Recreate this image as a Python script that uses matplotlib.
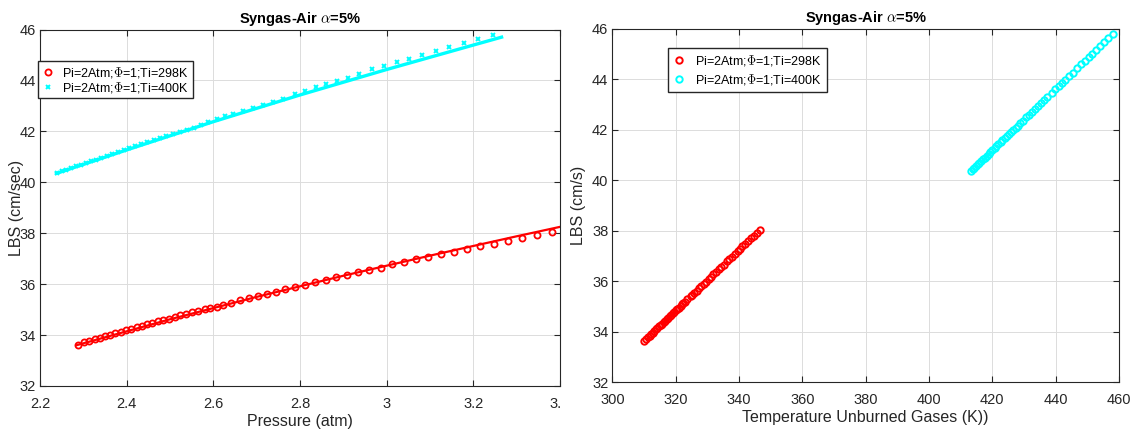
import matplotlib.pyplot as plt
from matplotlib.transforms import Bbox, TransformedBbox

plt.rcParams['font.family'] = ['Liberation Sans', 'DejaVu Sans']
plt.rcParams['mathtext.fontset'] = 'cm'

# Pi=2Atm; Phi=1; Ti=298K
p_298 = [2.2884, 2.3015, 2.3138, 2.3262, 2.3378, 2.3493, 2.3616, 2.3738, 2.3862, 2.3985,
         2.4107, 2.4232, 2.4347, 2.4469, 2.4592, 2.4716, 2.4846, 2.4984, 2.5116, 2.5238,
         2.5376, 2.5515, 2.5653, 2.5801, 2.5930, 2.6078, 2.6217, 2.6408, 2.6604, 2.6812,
         2.7020, 2.7232, 2.7447, 2.7661, 2.7892, 2.8123, 2.8354, 2.8594, 2.8831, 2.9078,
         2.9332, 2.9593, 2.9858, 3.0131, 3.0401, 3.0678, 3.0961, 3.1255, 3.1548, 3.1855,
         3.2155, 3.2478, 3.2801, 3.3131, 3.3463, 3.3816]
lbs_298 = [33.62, 33.71, 33.78, 33.84, 33.90, 33.96, 34.01, 34.08, 34.13, 34.20,
           34.25, 34.31, 34.37, 34.43, 34.48, 34.54, 34.60, 34.65, 34.72, 34.77,
           34.84, 34.89, 34.95, 35.02, 35.07, 35.12, 35.18, 35.27, 35.39, 35.45,
           35.54, 35.62, 35.71, 35.80, 35.89, 35.97, 36.08, 36.17, 36.27, 36.36,
           36.46, 36.55, 36.65, 36.78, 36.87, 36.97, 37.07, 37.18, 37.28, 37.37,
           37.48, 37.58, 37.70, 37.80, 37.92, 38.03]
tu_298 = [310.0, 310.7, 311.3, 311.8, 312.3, 312.8, 313.2, 313.8, 314.2, 314.8,
          315.2, 315.7, 316.2, 316.7, 317.1, 317.6, 318.1, 318.5, 319.1, 319.5,
          320.1, 320.5, 321.0, 321.6, 322.0, 322.4, 322.9, 323.7, 324.7, 325.1,
          325.9, 326.6, 327.3, 328.0, 328.8, 329.5, 330.4, 331.1, 331.9, 332.7,
          333.5, 334.3, 335.1, 336.2, 336.9, 337.7, 338.6, 339.5, 340.3, 341.0,
          341.9, 342.8, 343.8, 344.6, 345.6, 346.5]

# Pi=2Atm; Phi=1; Ti=400K
p_400 = [2.2399, 2.2503, 2.2609, 2.2718, 2.2829, 2.2942, 2.3057, 2.3175, 2.3295, 2.3417,
         2.3542, 2.3669, 2.3798, 2.3929, 2.4063, 2.4199, 2.4338, 2.4479, 2.4622, 2.4767,
         2.4917, 2.5069, 2.5226, 2.5388, 2.5552, 2.5720, 2.5884, 2.6078, 2.6270, 2.6461,
         2.6692, 2.6923, 2.7154, 2.7384, 2.7615, 2.7885, 2.8116, 2.8370, 2.8601, 2.8854,
         2.9115, 2.9369, 2.9655, 2.9939, 3.0232, 3.0523, 3.0816, 3.1139, 3.1446, 3.1785,
         3.2115, 3.2462]
lbs_400 = [40.37, 40.43, 40.49, 40.56, 40.62, 40.69, 40.76, 40.83, 40.89, 40.97,
           41.04, 41.11, 41.18, 41.26, 41.33, 41.41, 41.49, 41.57, 41.65, 41.73,
           41.81, 41.89, 41.98, 42.07, 42.15, 42.25, 42.35, 42.48, 42.59, 42.69,
           42.81, 42.93, 43.05, 43.17, 43.29, 43.46, 43.59, 43.73, 43.85, 43.97,
           44.11, 44.25, 44.44, 44.58, 44.72, 44.86, 45.00, 45.16, 45.30, 45.46,
           45.62, 45.78]
tu_400 = [413.3, 413.8, 414.3, 414.9, 415.4, 415.9, 416.5, 417.1, 417.6, 418.3,
          418.9, 419.4, 420.0, 420.7, 421.3, 421.9, 422.6, 423.2, 423.9, 424.5,
          425.2, 425.9, 426.6, 427.4, 428.0, 428.8, 429.7, 430.7, 431.6, 432.5,
          433.5, 434.5, 435.4, 436.4, 437.4, 438.8, 439.9, 441.1, 442.1, 443.0,
          444.2, 445.4, 446.9, 448.1, 449.2, 450.4, 451.6, 452.9, 454.0, 455.4,
          456.7, 458.0]

# fitted curves on the pressure plot
fit_p_298 = [2.284, 2.5, 2.7, 2.9, 3.1, 3.3, 3.4]
fit_lbs_298 = [33.60, 34.62, 35.50, 36.33, 37.12, 37.88, 38.25]
fit_p_400 = [2.238, 2.4, 2.6, 2.8, 3.0, 3.2, 3.265]
fit_lbs_400 = [40.35, 41.27, 42.38, 43.43, 44.43, 45.39, 45.70]

labels = ['Pi=2Atm;$\\Phi$=1;Ti=298K', 'Pi=2Atm;$\\Phi$=1;Ti=400K']
title = 'Syngas-Air $\\alpha$=5%'
red = '#ff0000'
cyan = '#00ffff'
dark = '#262626'


def style(ax):
    ax.grid(True, color='#dcdcdc', linewidth=0.7)
    ax.set_axisbelow(True)
    for s in ax.spines.values():
        s.set_color(dark)
        s.set_linewidth(0.8)
    ax.tick_params(direction='in', top=True, right=True, length=4, width=0.8,
                   colors=dark, labelsize=10.5, labelcolor=dark)
    ax.tick_params(axis='x', pad=8)
    ax.tick_params(axis='y', pad=3)


fig = plt.figure(figsize=(11.34, 4.32), dpi=100)

# left: LBS vs pressure
ax1 = fig.add_axes([0.0353, 0.1065, 0.4586, 0.8252])
ax1.plot(fit_p_298, fit_lbs_298, color=red, lw=1.6)
ax1.plot(p_298, lbs_298, 'o', color=red, mfc='none', ms=4.4, mew=1.3, label=labels[0])
ax1.plot(fit_p_400, fit_lbs_400, color=cyan, lw=2.4)
ax1.plot(p_400, lbs_400, 'x', color=cyan, ms=3.2, mew=1.4, label=labels[1])
ax1.set_xlim(2.2, 3.4)
ax1.set_ylim(32, 46)
ax1.set_xticks([2.2, 2.4, 2.6, 2.8, 3.0, 3.2, 3.4])
ax1.set_xticklabels(['2.2', '2.4', '2.6', '2.8', '3', '3.2', '3.4'])
ax1.set_yticks(range(32, 47, 2))
style(ax1)
ax1.set_title(title, fontsize=10.5, fontweight='bold', pad=5)
ax1.set_xlabel('Pressure (atm)', fontsize=11.5, color=dark, labelpad=2)
ax1.set_ylabel('LBS (cm/sec)', fontsize=11.5, color=dark)
ax1.yaxis.set_label_coords(-0.03, 0.5)
ax1.legend(loc='upper left', bbox_to_anchor=(-0.003, 0.912), borderaxespad=0,
           fontsize=9, frameon=True, fancybox=False, framealpha=1, edgecolor=dark,
           handlelength=1.0, handletextpad=0.6, labelspacing=0.0, borderpad=0.3)

# right: LBS vs unburned gas temperature
ax2 = fig.add_axes([0.5401, 0.1157, 0.4466, 0.8183])
ax2.plot(tu_298, lbs_298, 'o', color=red, mfc='none', ms=4.6, mew=1.4, label=labels[0])
ax2.plot(tu_400, lbs_400, 'o', color=cyan, mfc='none', ms=4.6, mew=1.4, label=labels[1])
ax2.set_xlim(300, 460)
ax2.set_ylim(32, 46)
ax2.set_xticks(range(300, 461, 20))
ax2.set_yticks(range(32, 47, 2))
style(ax2)
ax2.set_title(title, fontsize=10.5, fontweight='bold', pad=5)
ax2.set_xlabel('Temperature Unburned Gases (K))', fontsize=11.5, color=dark, labelpad=2)
ax2.set_ylabel('LBS (cm/s)', fontsize=11.5, color=dark)
ax2.yaxis.set_label_coords(-0.052, 0.5)
ax2.legend(loc='upper left', bbox_to_anchor=(0.109, 0.944), borderaxespad=0,
           fontsize=9, frameon=True, fancybox=False, framealpha=1, edgecolor=dark,
           handlelength=1.0, handletextpad=0.8, labelspacing=0.3, borderpad=0.4)

# the left panel is cut off just past its right edge, as in the source image
clip = TransformedBbox(Bbox([[0, 0], [561 / 1134, 1]]), fig.transFigure)
last = ax1.xaxis.get_major_ticks()[-1].label1
last.set_clip_box(clip)
last.set_clip_on(True)

fig.savefig('out.png', dpi=100)
